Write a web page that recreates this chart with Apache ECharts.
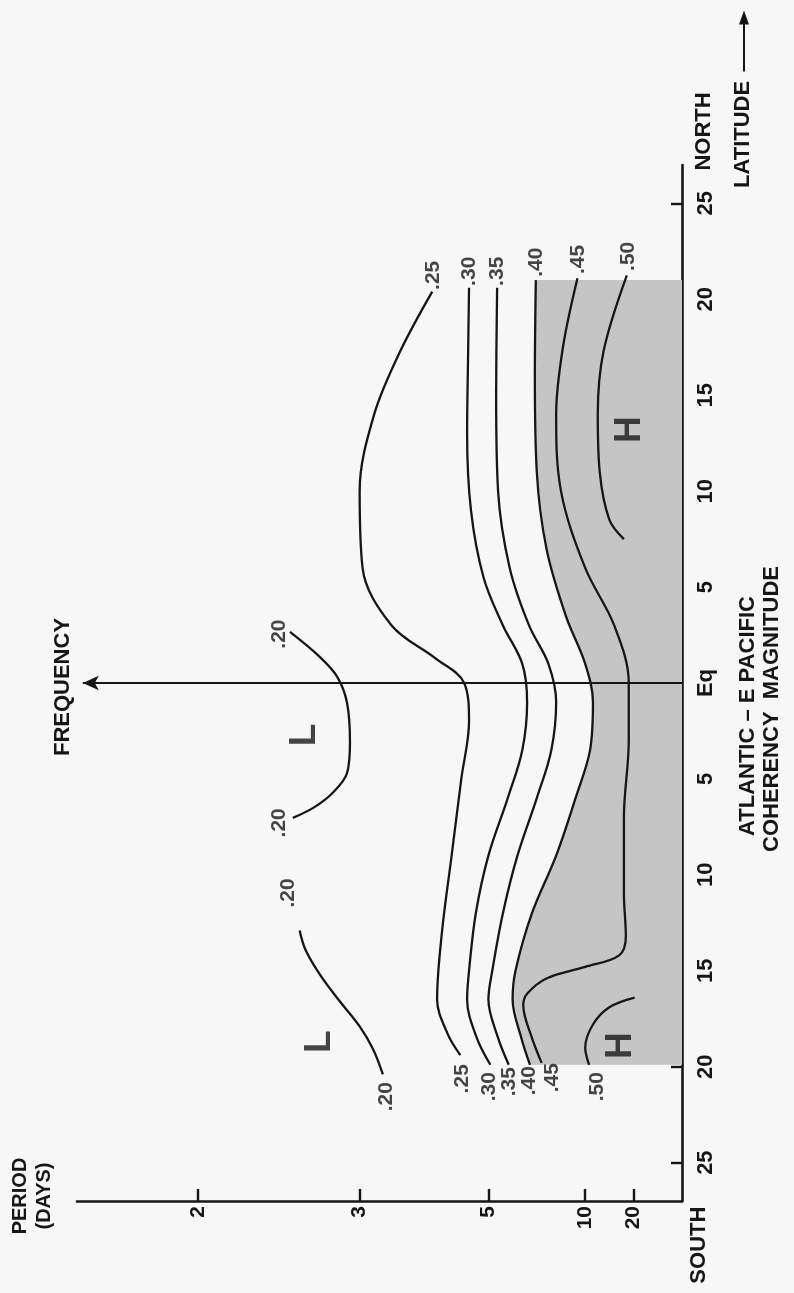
<!DOCTYPE html>
<html>
<head>
<meta charset="utf-8">
<script src="https://cdn.jsdelivr.net/npm/echarts@6/dist/echarts.min.js"></script>
<style>
  html, body { margin: 0; padding: 0; background: #f7f7f7; }
  #chart { width: 794px; height: 1293px; }
</style>
</head>
<body>
<div id="chart"></div>
<script>
// Axis ticks: period in days on the frequency axis, degrees on the latitude axis
const periodDays = [20, 10, 5, 3, 2];
const latitudeTicks = [-25, -20, -15, -10, -5, 0, 5, 10, 15, 20, 25];

// Coherence contours, points as [frequency (cycles/day), latitude (deg, N > 0)]
const coh20South = [[0.309,-20.4],[0.319,-19.1],[0.333,-17.9],[0.355,-16.5],[0.374,-15.2],[0.389,-13.9],[0.395,-12.9]];
const coh20Mid = [[0.405,2.66],[0.374,1.35],[0.356,0.31],[0.346,-1.04],[0.343,-3.07],[0.346,-4.69],[0.361,-5.73],[0.381,-6.51],[0.402,-7.03]];
const coh25 = [[0.258,20.4],[0.291,17.3],[0.318,14],[0.333,10],[0.330,6],[0.300,3],[0.255,1.3],[0.225,0],[0.220,-2],[0.228,-5],[0.238,-9],[0.248,-13],[0.253,-16.5],[0.242,-18.3],[0.229,-19.4]];
const coh30 = [[0.220,20.6],[0.221,17],[0.222,13],[0.218,9],[0.205,5.5],[0.185,3],[0.165,1],[0.160,-1],[0.165,-3.5],[0.180,-6],[0.200,-9],[0.213,-12],[0.220,-15],[0.222,-16.5],[0.212,-18.5],[0.198,-19.9]];
const coh35 = [[0.191,20.6],[0.192,15],[0.190,10],[0.178,6],[0.158,3],[0.138,1],[0.130,-1],[0.135,-3.5],[0.150,-6],[0.170,-9],[0.185,-12],[0.196,-15],[0.200,-16.5],[0.190,-18.5],[0.179,-19.9]];
const coh40 = [[0.151,21],[0.152,16],[0.150,11],[0.140,7],[0.120,3.5],[0.100,1],[0.092,-1],[0.095,-3.5],[0.110,-6],[0.130,-9],[0.155,-12],[0.172,-15],[0.175,-16.5],[0.166,-18.5],[0.157,-19.9]];
const coh45 = [[0.108,21.1],[0.123,17.5],[0.130,14],[0.125,10],[0.100,6],[0.070,3],[0.055,0],[0.055,-3],[0.060,-7],[0.060,-11],[0.058,-13.2],[0.065,-14.2],[0.100,-14.8],[0.140,-15.4],[0.160,-16.2],[0.164,-16.8],[0.155,-18.5],[0.145,-19.8]];
const coh50North = [[0.057,21.25],[0.081,17.3],[0.087,14],[0.085,11],[0.075,8.5],[0.060,7.5]];
const coh50South = [[0.096,-19.9],[0.100,-19.0],[0.092,-17.8],[0.075,-16.9],[0.049,-16.4]];

// Data coverage of the shaded (> .40) region, latitude limits
const shadeNorth = 21;
const shadeSouth = -19.9;

// Contour level tags: [text, frequency, latitude]
const levelTags = [
  ['.25',0.257,21.25],['.30',0.220,21.46],['.35',0.191,21.46],['.40',0.151,21.93],['.45',0.107,22.08],['.50',0.056,22.24],
  ['.20',0.306,-21.56],['.25',0.227,-20.63],['.30',0.199,-21.04],['.35',0.179,-20.78],['.40',0.158,-20.73],['.45',0.134,-20.57],['.50',0.088,-21.04],
  ['.20',0.416,2.55],['.20',0.416,-7.29],['.20',0.407,-10.94]
];
// Centres of highs and lows: [text, frequency, latitude]
const centreTags = [['L',0.374,-18.7],['L',0.390,-2.71],['H',0.063,-18.9],['H',0.054,13.2]];

const FONT = '"Liberation Sans", Arial, Helvetica, sans-serif';
const INK = '#161616';

const chart = echarts.init(document.getElementById('chart'));

const contourSets = [coh20South, coh20Mid, coh25, coh30, coh35, coh40, coh45, coh50North, coh50South];
const contourSeries = contourSets.map(pts => ({
  type: 'line',
  data: pts,
  smooth: 0.35,
  showSymbol: false,
  silent: true,
  z: 4,
  lineStyle: { color: INK, width: 2.3 }
}));

chart.setOption({
  backgroundColor: '#f7f7f7',
  animation: false,
  grid: { left: 77, right: 112, top: 165, bottom: 92, containLabel: false },
  xAxis: {
    type: 'value', min: 0, max: 0.625, inverse: true, position: 'bottom',
    axisLine: { onZero: false, lineStyle: { color: INK, width: 2.6 } },
    axisTick: { inside: true, length: 12, lineStyle: { color: INK, width: 2.4 },
                customValues: periodDays.map(d => 1 / d) },
    axisLabel: { customValues: periodDays.map(d => 1 / d), formatter: v => String(Math.round(1 / v)),
                 rotate: 90, margin: 5, color: INK, fontSize: 21, fontWeight: 'bold', fontFamily: FONT },
    splitLine: { show: false }
  },
  yAxis: {
    type: 'value', min: -27, max: 27, position: 'right',
    axisLine: { onZero: false, lineStyle: { color: INK, width: 2.6 } },
    axisTick: { inside: true, length: 11, lineStyle: { color: INK, width: 2.4 }, customValues: latitudeTicks },
    axisLabel: { customValues: latitudeTicks, formatter: v => (v === 0 ? 'Eq' : String(Math.abs(v))),
                 rotate: 90, margin: 13, color: INK, fontSize: 22, fontWeight: 'bold', fontFamily: FONT },
    splitLine: { show: false }
  },
  series: [
    {
      // shaded region where coherence exceeds .40
      type: 'custom',
      silent: true,
      z: 1,
      data: [0],
      renderItem: (params, api) => {
        const pts = coh40.map(p => api.coord(p));
        pts.push(api.coord([0, shadeSouth]));
        pts.push(api.coord([0, shadeNorth]));
        return { type: 'polygon', shape: { points: pts }, style: { fill: '#c5c5c5' } };
      }
    },
    {
      // frequency arrow along the equator
      type: 'line',
      data: [],
      silent: true,
      markLine: {
        silent: true,
        symbol: ['none', 'arrow'],
        symbolSize: [11, 16],
        label: { show: false },
        lineStyle: { color: INK, width: 2, type: 'solid' },
        data: [[{ coord: [0, 0] }, { coord: [0.619, 0] }]]
      }
    },
    ...contourSeries,
    {
      type: 'scatter',
      silent: true,
      symbolSize: 0,
      z: 6,
      data: levelTags.map(t => ({ name: t[0], value: [t[1], t[2]] })),
      label: { show: true, position: 'inside', formatter: p => p.name, rotate: 90,
               color: INK, fontSize: 21, fontWeight: 'bold', fontFamily: FONT }
    },
    {
      type: 'scatter',
      silent: true,
      symbolSize: 0,
      z: 6,
      data: centreTags.map(t => ({ name: t[0], value: [t[1], t[2]] })),
      label: { show: true, position: 'inside', formatter: p => p.name, rotate: 90,
               color: INK, fontSize: 37, fontWeight: 'bold', fontFamily: FONT }
    }
  ]
});

// Axis titles and captions, placed relative to the axes
const at = (f, lat) => chart.convertToPixel({ gridIndex: 0 }, [f, lat]);
const vText = (text, x, y, size) => ({
  type: 'text', x, y, rotation: Math.PI / 2, silent: true,
  style: { text, fill: INK, font: 'bold ' + size + 'px ' + FONT, textAlign: 'center', textVerticalAlign: 'middle' }
});

const north = at(0, 28.75);
const south = at(0, -29.3);
const eq = at(0, 0);
const freqTip = at(0.619, 0);
const periodEnd = at(0.625, -27);

const latArrowTop = north[1] - 121;
const latArrowBottom = north[1] - 60;

chart.setOption({
  graphic: [
    vText('NORTH', north[0] + 22, north[1], 22),
    vText('SOUTH', south[0] + 17, south[1], 22),
    vText('LATITUDE', north[0] + 61, north[1] + 3, 22),
    { type: 'line', silent: true, shape: { x1: north[0] + 62, y1: latArrowBottom, x2: north[0] + 62, y2: latArrowTop + 10 },
      style: { stroke: INK, lineWidth: 2 } },
    { type: 'polygon', silent: true,
      shape: { points: [[north[0] + 62, latArrowTop], [north[0] + 57, latArrowTop + 14], [north[0] + 67, latArrowTop + 14]] },
      style: { fill: INK } },
    vText('FREQUENCY', freqTip[0] - 20, freqTip[1] + 4, 22),
    vText('PERIOD', periodEnd[0] - 57, periodEnd[1] - 5, 20),
    vText('(DAYS)', periodEnd[0] - 33, periodEnd[1] - 5, 20),
    vText('ATLANTIC \u2013 E PACIFIC', eq[0] + 66, eq[1] + 33, 22),
    vText('COHERENCY  MAGNITUDE', eq[0] + 90, eq[1] + 26, 22)
  ]
});
</script>
</body>
</html>
